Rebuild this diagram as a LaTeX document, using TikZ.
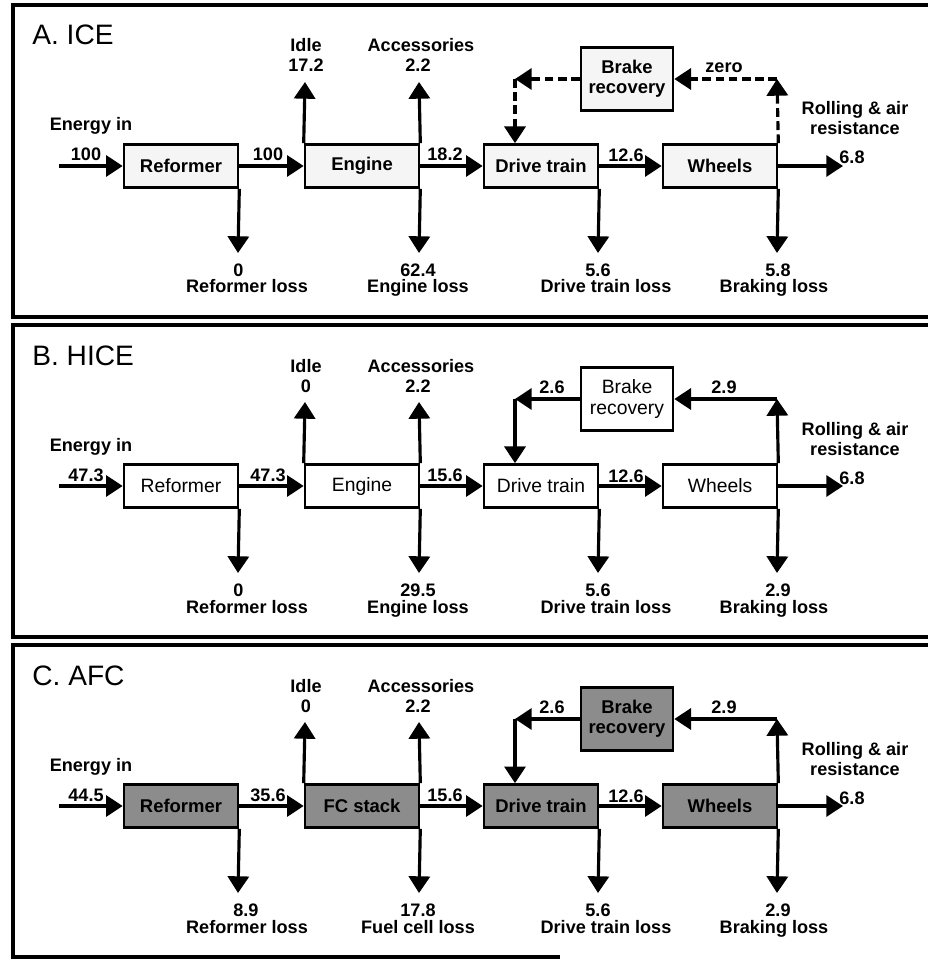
\documentclass[tikz,border=0pt]{standalone}
\usepackage{fontspec}
\setmainfont{Liberation Sans}
\usetikzlibrary{arrows.meta}

\begin{document}
\begin{tikzpicture}[x=0.02cm, y=-0.02cm, >={Triangle[length=9.5pt, width=12pt]},
  flow/.style={->, line width=1.8pt},
  frame/.style={line width=2.2pt},
  lbl/.style={font=\fontsize{10.3}{12}\selectfont\bfseries, inner sep=0pt, anchor=base},
  paneltitle/.style={font=\fontsize{16}{18}\selectfont, inner sep=0pt, anchor=base west},
  box/.style={draw, line width=1.5pt, minimum width=2.28cm, minimum height=0.86cm, inner sep=0pt, align=center},
  boxA/.style={box, fill=black!4, font=\fontsize{10.5}{11.5}\selectfont\bfseries},
  boxB/.style={box, fill=white, font=\fontsize{11}{11.5}\selectfont},
  boxC/.style={box, fill=black!45, font=\fontsize{10.5}{11.5}\selectfont\bfseries},
  loopA/.style={dash pattern=on 5pt off 2.5pt},
  loopB/.style={solid}]

  \useasboundingbox (0,0) rectangle (928,959);

  % one panel per drive system
  \foreach \k/\pname/\ein/\rout/\idle/\eout/\rloss/\eloss/\ename/\elname/\brk/\recL/\recR/\lp/\bx/\fr in {
    0/A. ICE/100/100/17.2/18.2/0/62.4/Engine/Engine loss/5.8//zero/loopA/boxA/928,
    1/B. HICE/47.3/47.3/0/15.6/0/29.5/Engine/Engine loss/2.9/2.6/2.9/loopB/boxB/928,
    2/C. AFC/44.5/35.6/0/15.6/8.9/17.8/FC stack/Fuel cell loss/2.9/2.6/2.9/loopB/boxC/560} {
  \begin{scope}[shift={(0,320*\k)}]
    % frame
    \draw[frame] (928,5) -- (13,5) -- (13,317) -- (\fr,317);
    \node[paneltitle] (ttl\k) at (32,45) {\pname};

    % blocks
    \node[\bx] (ref\k) at (181,166) {Reformer};
    \node[\bx] (eng\k) at (362,166) {\ename};
    \node[\bx] (drv\k) at (541,166) {Drive train};
    \node[\bx] (whl\k) at (720,166) {Wheels};
    \node[\bx, minimum width=1.84cm, minimum height=1.26cm] (brk\k) at (627,79) {Brake\\recovery};

    % free ends of the arrows
    \coordinate (in\k) at (59,166);
    \coordinate (out\k) at (843,166);
    \coordinate (idl\k) at (305,82);
    \coordinate (acc\k) at (419,82);
    \coordinate (rl\k) at (238,253);
    \coordinate (el\k) at (419,253);
    \coordinate (dl\k) at (598,253);
    \coordinate (bl\k) at (777,253);
    \coordinate (cr\k) at (777,79);
    \coordinate (cl\k) at (515,79);

    % main flow
    \draw[flow] (in\k) -- (ref\k);
    \draw[flow] (ref\k) -- (eng\k);
    \draw[flow] (eng\k) -- (drv\k);
    \draw[flow] (drv\k) -- (whl\k);
    \draw[flow] (whl\k) -- (out\k);

    % losses and side flows
    \draw[flow] (ref\k.south east) -- (rl\k);
    \draw[flow] (eng\k.north west) -- (idl\k);
    \draw[flow] (eng\k.north east) -- (acc\k);
    \draw[flow] (eng\k.south east) -- (el\k);
    \draw[flow] (drv\k.south east) -- (dl\k);
    \draw[flow] (whl\k.south east) -- (bl\k);

    % brake recovery loop
    \draw[flow, \lp] (whl\k.north east) -- (cr\k);
    \draw[flow, \lp] (cr\k) -- (brk\k);
    \draw[flow, \lp] (brk\k) -- (cl\k);
    \draw[flow, \lp] (cl\k) -- (cl\k |- drv\k.north);

    % labels
    \node[lbl] (einl\k) at (91,131) {Energy in};
    \node[lbl] (einv\k) at (86,161) {\ein};
    \node[lbl] (routv\k) at (268,161) {\rout};
    \node[lbl] (eoutv\k) at (445,161) {\eout};
    \node[lbl] (dout\k) at (626,162) {12.6};
    \node[lbl] (wout\k) at (852,164) {6.8};
    \node[lbl] (roll\k) at (855,115) {Rolling \& air};
    \node[lbl] (res\k) at (855,135) {resistance};
    \node[lbl] (idlt\k) at (306,52) {Idle};
    \node[lbl] (idlv\k) at (306,72) {\idle};
    \node[lbl] (acct\k) at (421,52) {Accessories};
    \node[lbl] (accv\k) at (418,72) {2.2};
    \node[lbl, anchor=base west] (rlv\k) at (233,276) {\rloss};
    \node[lbl] (rlt\k) at (247,293) {Reformer loss};
    \node[lbl] (elv\k) at (418,276) {\eloss};
    \node[lbl] (elt\k) at (418,293) {\elname};
    \node[lbl] (dlv\k) at (598,276) {5.6};
    \node[lbl] (dlt\k) at (606,293) {Drive train loss};
    \node[lbl] (blv\k) at (778,276) {\brk};
    \node[lbl] (blt\k) at (774,293) {Braking loss};
    \node[lbl] (recl\k) at (552,73) {\recL};
    \node[lbl] (recr\k) at (724,73) {\recR};
  \end{scope}
  }
\end{tikzpicture}
\end{document}
